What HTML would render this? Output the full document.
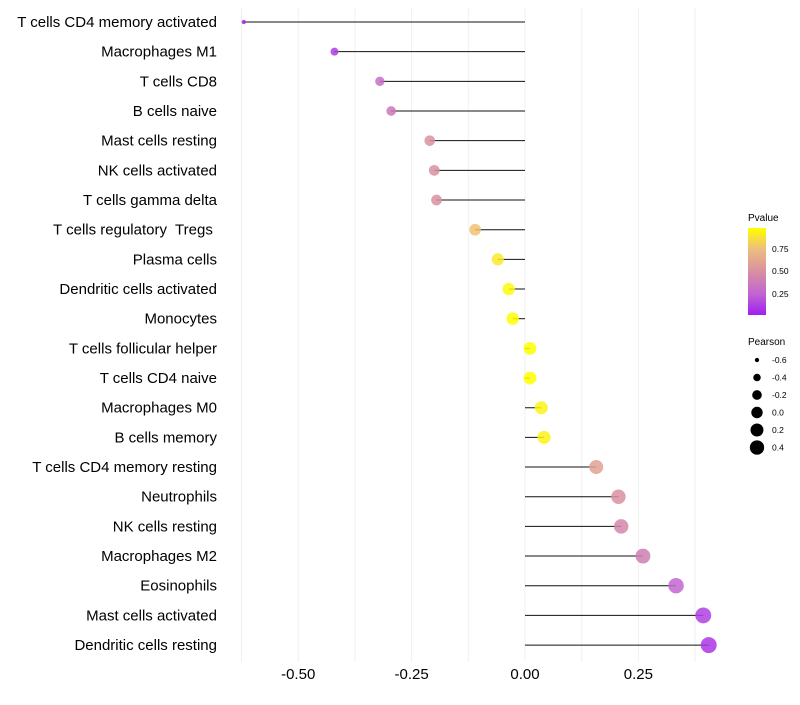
<!DOCTYPE html>
<html><head><meta charset="utf-8"><style>
body{margin:0;background:#fff;font-family:"Liberation Sans",sans-serif}
svg text{font-family:"Liberation Sans",sans-serif;white-space:pre}
</style></head><body>
<svg id="chart" width="800" height="700">
<defs><linearGradient id="pg" x1="0" y1="1" x2="0" y2="0">
<stop offset="0" stop-color="#A020F0"/><stop offset="0.25" stop-color="#C266D0"/>
<stop offset="0.5" stop-color="#D890A0"/><stop offset="0.75" stop-color="#EEBB80"/>
<stop offset="1" stop-color="#FFFF00"/></linearGradient></defs>
<g id="grid"></g><g id="marks"></g><g id="ylabels"></g><g id="xlabels"></g>
<g>
<text x="748" y="221" font-size="10" fill="#000">Pvalue</text>
<rect x="748" y="228" width="18" height="87" fill="url(#pg)"/>
<text x="772" y="252" font-size="8.5">0.75</text>
<text x="772" y="274" font-size="8.5">0.50</text>
<text x="772" y="297" font-size="8.5">0.25</text>
</g>
<g id="sizeleg">
<text x="748" y="345" font-size="10">Pearson</text>
</g>
</svg>
<script>
const cats=["T cells CD4 memory activated","Macrophages M1","T cells CD8","B cells naive","Mast cells resting","NK cells activated","T cells gamma delta","T cells regulatory  Tregs ","Plasma cells","Dendritic cells activated","Monocytes","T cells follicular helper","T cells CD4 naive","Macrophages M0","B cells memory","T cells CD4 memory resting","Neutrophils","NK cells resting","Macrophages M2","Eosinophils","Mast cells activated","Dendritic cells resting"];
const pearson=[-0.62,-0.42,-0.32,-0.295,-0.21,-0.2,-0.195,-0.11,-0.06,-0.036,-0.027,0.011,0.011,0.036,0.042,0.157,0.206,0.212,0.26,0.333,0.393,0.405];
const pvalue=[0.0,0.1,0.3,0.35,0.5,0.5,0.5,0.78,0.92,0.98,1.0,1.0,1.0,0.96,0.96,0.6,0.5,0.45,0.4,0.25,0.12,0.08];
const xticks=[-0.5,-0.25,0,0.25];
const xtickLabels=["-0.50","-0.25","0.00","0.25"];
const legVals=[-0.6,-0.4,-0.2,0.0,0.2,0.4];
const legLabels=["-0.6","-0.4","-0.2","0.0","0.2","0.4"];
const NS="http://www.w3.org/2000/svg";
const X=v=>525+v*453.6;
const Y=i=>22+i*29.67;
const R=v=>{const t=Math.max(0,(v+0.63)/1.04);return Math.sqrt(4+t*(64-4));};
const stops=[[0,[160,32,240]],[0.25,[194,102,208]],[0.5,[216,144,160]],[0.75,[238,187,128]],[1,[255,255,0]]];
function col(p){for(let k=1;k<stops.length;k++){if(p<=stops[k][0]){const a=stops[k-1],b=stops[k],t=(p-a[0])/(b[0]-a[0]);return "rgb("+a[1].map((c,j)=>Math.round(c+(b[1][j]-c)*t)).join(",")+")";}}return "rgb(255,255,0)";}
function el(t,a,p){const e=document.createElementNS(NS,t);for(const k in a)e.setAttribute(k,a[k]);p.appendChild(e);return e;}
const grid=document.getElementById('grid'),marks=document.getElementById('marks'),yl=document.getElementById('ylabels'),xl=document.getElementById('xlabels');
for(let v=-0.625;v<=0.4;v+=0.125){const g=el('line',{x1:X(v),x2:X(v),y1:8,y2:662,stroke:'#f0f0f0','stroke-width':1},grid);

}
xticks.forEach((v,i)=>{const t=el('text',{x:X(v),y:679,'font-size':15,'text-anchor':'middle',fill:'#000'},xl);t.textContent=xtickLabels[i];

});
cats.forEach((c,i)=>{
const t=el('text',{x:217,y:Y(i)+5,'font-size':15,'text-anchor':'end',fill:'#000'},yl);t.textContent=c;


const l=el('line',{x1:X(0),x2:X(pearson[i]),y1:Y(i),y2:Y(i),stroke:'#111','stroke-width':1},marks);


const d=el('circle',{cx:X(pearson[i]),cy:Y(i),r:R(pearson[i]),fill:col(pvalue[i]),'fill-opacity':0.85},marks);


});
const sl=document.getElementById('sizeleg');
legVals.forEach((v,i)=>{const y=360+i*17.5;
const c=el('circle',{cx:757,cy:y,r:R(v)*0.9,fill:'#000'},sl);


const t=el('text',{x:772,y:y+3,'font-size':8.5},sl);t.textContent=legLabels[i];

});
</script>
</body></html>
